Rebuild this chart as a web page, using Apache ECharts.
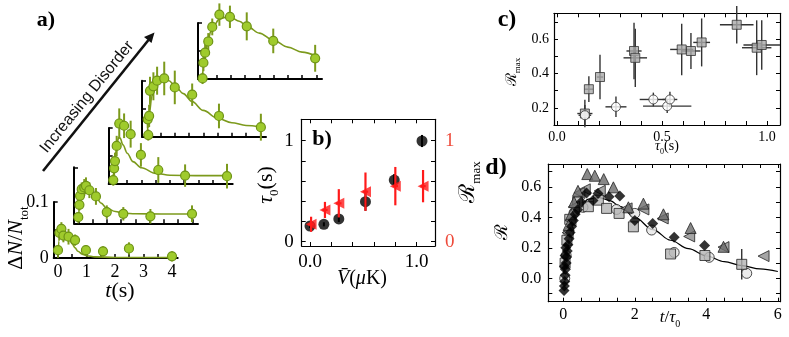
<!DOCTYPE html>
<html>
<head>
<meta charset="utf-8">
<script src="https://cdn.jsdelivr.net/npm/echarts@6/dist/echarts.min.js"></script>
<style>html,body{margin:0;padding:0;background:#fff}#main{width:789px;height:337px}</style>
</head>
<body>
<div id="main"></div>
<script>
var SERIF = "'Liberation Serif','DejaVu Serif',serif";
var SANS = "'Liberation Sans',Arial,sans-serif";

// panel a, five curves: [t (s), dN/Ntot, error]
var a1 = [[0.0,0.014,0.008],[0.05,0.045,0.012],[0.12,0.052,0.012],[0.19,0.040,0.012],[0.37,0.038,0.014],[0.6,0.032,0.01],[0.98,0.014,0.009],[1.58,0.012,0.009],[2.49,0.017,0.011],[4.0,0.003,0.009]];
var a2 = [[0,0.011,0.008],[0.04,0.033,0.01],[0.06,0.049,0.012],[0.12,0.061,0.012],[0.21,0.064,0.015],[0.27,0.067,0.015],[0.39,0.059,0.014],[0.62,0.048,0.015],[1.0,0.02,0.012],[1.58,0.017,0.012],[2.53,0.0125,0.013],[3.99,0.017,0.015]];
var a3 = [[0.01,0.007,0.01],[0.04,0.028,0.012],[0.07,0.041,0.015],[0.13,0.068,0.018],[0.22,0.108,0.027],[0.39,0.104,0.022],[0.62,0.089,0.024],[0.98,0.052,0.021],[1.59,0.025,0.023],[2.53,0.015,0.02],[4.0,0.014,0.022]];
var a4 = [[0.07,0.003,0.01],[0.05,0.031,0.015],[0.1,0.037,0.02],[0.13,0.082,0.025],[0.25,0.09,0.025],[0.38,0.1,0.025],[0.63,0.104,0.03],[1.0,0.088,0.03],[1.61,0.075,0.02],[2.55,0.037,0.022],[4.02,0.017,0.024]];
var a5 = [[0.01,0.001,0.01],[0.04,0.029,0.015],[0.1,0.047,0.015],[0.21,0.067,0.015],[0.35,0.093,0.015],[0.6,0.115,0.02],[0.97,0.111,0.02],[1.56,0.094,0.025],[2.49,0.068,0.022],[3.96,0.037,0.024]];
// fitted curves
var a1Fit = [[0,0],[0.03,0.03],[0.07,0.045],[0.12,0.048],[0.2,0.046],[0.3,0.04],[0.4,0.033],[0.5,0.025],[0.6,0.018],[0.7,0.012],[0.85,0.007],[1.0,0.004],[1.3,0.002],[2,0.001],[4,0.001]];
var a2Fit = [[0,0],[0.05,0.035],[0.1,0.055],[0.2,0.064],[0.3,0.065],[0.4,0.061],[0.6,0.05],[0.8,0.036],[1.0,0.027],[1.3,0.021],[1.6,0.018],[2.0,0.017],[3.0,0.0165],[4.0,0.0165]];
var a3Fit = [[0,0],[0.05,0.03],[0.1,0.058],[0.15,0.075],[0.2,0.083],[0.25,0.082],[0.35,0.07],[0.5,0.055],[0.7,0.04],[1.0,0.029],[1.5,0.019],[2.0,0.0155],[3.0,0.015],[4.0,0.015]];
var a4Fit = [[0.03,0],[0.1,0.04],[0.2,0.073],[0.3,0.09],[0.4,0.099],[0.6,0.105],[0.8,0.1],[1.0,0.091],[1.3,0.077],[1.6,0.063],[2.0,0.047],[2.5,0.033],[3.0,0.025],[3.5,0.02],[4.0,0.018]];
var a5Fit = [[0,0],[0.05,0.025],[0.1,0.045],[0.2,0.068],[0.3,0.085],[0.4,0.095],[0.6,0.107],[0.8,0.11],[1.0,0.11],[1.3,0.103],[1.6,0.093],[2.0,0.082],[2.5,0.069],[3.0,0.057],[3.5,0.048],[4.0,0.041]];

// panel b
var bV = [0.0, 0.13, 0.27, 0.52, 0.79, 1.05];
var bTau = [0.155, 0.172, 0.225, 0.396, 0.61, 0.997];
var bTauErr = [0.02, 0.02, 0.03, 0.09, 0.06, 0.06];
var bRV = [0.01, 0.14, 0.27, 0.52, 0.8, 1.06];
var bR = [0.172, 0.314, 0.38, 0.495, 0.55, 0.55];
var bRErr = [0.075, 0.08, 0.14, 0.19, 0.19, 0.16];

// panel c
var cSqT = [0.133,0.152,0.205,0.367,0.373,0.594,0.638,0.689,0.856,0.951,0.975];
var cSqR = [0.167,0.309,0.38,0.532,0.492,0.541,0.532,0.582,0.685,0.551,0.567];
var cSqTErr = [0.036,0.02,0.015,0.036,0.056,0.055,0.045,0.04,0.08,0.07,0.087];
var cSqRErr = [0.08,0.075,0.13,0.165,0.17,0.15,0.105,0.14,0.11,0.16,0.145];
var cCiT = [0.133,0.281,0.459,0.525,0.538];
var cCiR = [0.157,0.206,0.249,0.21,0.249];
var cCiTErr = [0.03,0.05,0.065,0.115,0.035];
var cCiRErr = [0.06,0.06,0.04,0.04,0.045];

// panel d: [t/tau0, R]
var dCurve = [[0,0],[0.1,0.17],[0.2,0.3],[0.3,0.39],[0.5,0.48],[0.7,0.52],[1.0,0.53],[1.3,0.51],[1.6,0.47],[2.0,0.4],[2.5,0.32],[3.0,0.25],[3.5,0.195],[4.0,0.148],[4.5,0.11],[5.0,0.083],[5.5,0.062],[6.0,0.045]];
var dTriUp = [[0.67,0.684],[0.88,0.673],[1.13,0.651],[1.4,0.597],[0.41,0.574],[0.3,0.5],[0.22,0.42],[0.15,0.35],[1.82,0.466],[2.24,0.49],[2.8,0.42],[3.56,0.33],[4.48,0.207]];
var dTriLeft = [[0.6,0.584],[1.02,0.574],[1.77,0.459],[2.24,0.452],[2.78,0.393],[3.52,0.275],[4.48,0.205],[5.6,0.146],[0.45,0.56],[0.3,0.47],[0.2,0.38],[0.12,0.3]];
var dDiamond = [[0.65,0.56],[0.83,0.51],[0.97,0.557],[1.28,0.535],[1.58,0.54],[2.0,0.38],[2.5,0.36],[3.1,0.27],[3.95,0.215],[0.02,-0.08],[0.03,-0.05],[0.04,-0.02],[0.05,0.02],[0.06,0.06],[0.08,0.1],[0.09,0.14],[0.11,0.18],[0.13,0.22],[0.16,0.26],[0.19,0.3],[0.23,0.34],[0.28,0.38],[0.33,0.42],[0.4,0.45],[0.5,0.5],[0.03,0.08],[0.05,0.15],[0.07,0.2]];
var dSquare = [[0.98,0.513],[0.7,0.47],[1.21,0.459],[1.56,0.426],[1.96,0.338],[3.0,0.16],[3.96,0.15],[4.99,0.092],[0.18,0.387],[0.4,0.5],[0.1,0.25],[0.05,0.1]];
var dSquareErr = [[4.99,0.092,0.1]];
var dCircle = [[2.0,0.426],[2.47,0.317],[3.1,0.17],[4.08,0.138],[5.13,0.033],[1.49,0.452],[0.55,0.466],[0.3,0.43],[0.15,0.3],[0.08,0.15],[0.04,0.0]];

// ticks and tick labels
var aTicksX = [0,0.5,1,1.5,2,2.5,3,3.5,4];
var aLabelsX = [0,1,2,3,4];
var aTicksY = [0.05,0.1];
var aLabelsY = [0,0.1];
var bTicks = [0,0.2,0.4,0.6,0.8,1.0];
var bLabels = [0,1];
var cTicksX = [0,0.1,0.2,0.3,0.4,0.5,0.6,0.7,0.8,0.9,1.0];
var cLabelsX = [0,0.5,1];
var cTicksY = [0.2,0.3,0.4,0.5,0.6,0.7];
var cLabelsY = [0.2,0.4,0.6];
var dTicksX = [0,0.5,1,1.5,2,2.5,3,3.5,4,4.5,5,5.5,6];
var dLabelsX = [0,2,4,6];
var dTicksY = [-0.1,0,0.1,0.2,0.3,0.4,0.5,0.6,0.7];
var dLabelsY = [0,0.2,0.4,0.6];

var GREEN = '#9fcb2c', GREEN_EDGE = '#6e9316', GREEN_LINE = '#7c9a1c';
var RED = '#ff1a1a', RED_TXT = '#ee4a3a';

var chart = echarts.init(document.getElementById('main'), null, {renderer: 'canvas'});

function axis(grid, min, max, ticks, labels, o) {
  o = o || {};
  var lbl = {show: labels.length > 0, customValues: labels, margin: o.margin || 6,
    fontFamily: SERIF, fontSize: o.fs || 16, color: o.color || '#000'};
  if (o.fmt) lbl.formatter = o.fmt;
  return {
    type: 'value', gridIndex: grid, min: min, max: max, position: o.pos,
    splitLine: {show: false},
    axisLine: {show: true, onZero: false, lineStyle: {color: '#000', width: o.lw || 1.2}},
    axisTick: {show: ticks.length > 0, inside: true, length: o.tl || 4, customValues: ticks,
      lineStyle: {color: '#000', width: o.tw || 1}},
    axisLabel: lbl
  };
}

function errBars(color, lw) {
  return function (params, api) {
    var x = api.value(0), y = api.value(1), ey = api.value(2), ex = api.value(3);
    var kids = [];
    if (ey) {
      var p = api.coord([x, y - ey]), q = api.coord([x, y + ey]);
      kids.push({type: 'line', shape: {x1: p[0], y1: p[1], x2: q[0], y2: q[1]}, style: {stroke: color, lineWidth: lw}});
    }
    if (ex) {
      var r = api.coord([x - ex, y]), s = api.coord([x + ex, y]);
      kids.push({type: 'line', shape: {x1: r[0], y1: r[1], x2: s[0], y2: s[1]}, style: {stroke: color, lineWidth: lw}});
    }
    return {type: 'group', children: kids};
  };
}

var grids = [], xAxes = [], yAxes = [], series = [];

// panel a layout
var aLeft = [53.7, 74, 108.7, 142, 198];
var aTop = [202, 167.3, 128, 80.7, 23];
var aData = [a1, a2, a3, a4, a5];
var aFits = [a1Fit, a2Fit, a3Fit, a4Fit, a5Fit];
for (var k = 0; k < 5; k++) {
  grids.push({left: aLeft[k], top: aTop[k], width: 124, height: 56});
  xAxes.push(axis(k, -0.15, 4.2, aTicksX, k === 0 ? aLabelsX : [], {lw: 2, tw: 1.5, fs: 18, margin: 5}));
  yAxes.push(axis(k, 0, 0.1, aTicksY, k === 0 ? aLabelsY : [], {lw: 2, tw: 1.5, fs: 18, margin: 5}));
  series.push({type: 'line', xAxisIndex: k, yAxisIndex: k, data: aFits[k], smooth: 0.35, smoothMonotone: 'x',
    showSymbol: false, clip: false, silent: true, lineStyle: {color: GREEN_LINE, width: 1.6}, z: 2});
  series.push({type: 'custom', xAxisIndex: k, yAxisIndex: k, data: aData[k], renderItem: errBars(GREEN_LINE, 2), z: 3});
  series.push({type: 'scatter', xAxisIndex: k, yAxisIndex: k, data: aData[k], symbolSize: 9, clip: false,
    itemStyle: {color: GREEN, borderColor: GREEN_EDGE, borderWidth: 1.2, opacity: 1}, z: 4});
}

// panel b (grid 5)
grids.push({left: 301.7, top: 119.3, width: 133.3, height: 126.7});
xAxes.push(axis(5, -0.078, 1.172, bTicks, bLabels, {fs: 19, margin: 7, fmt: function (v) { return v.toFixed(1); }}));
xAxes.push(axis(5, -0.078, 1.172, bTicks, [], {pos: 'top'}));
yAxes.push(axis(5, -0.043, 1.212, bTicks, bLabels, {fs: 19, margin: 8, fmt: function (v) { return v.toFixed(0); }}));
yAxes.push(axis(5, -0.043, 1.212, bTicks, bLabels, {pos: 'right', fs: 19, margin: 10, color: RED_TXT, fmt: function (v) { return v.toFixed(0); }}));
var bTauPts = bV.map(function (v, i) { return [v, bTau[i], bTauErr[i]]; });
var bRPts = bRV.map(function (v, i) { return [v, bR[i], bRErr[i], 0.025]; });
series.push({type: 'custom', xAxisIndex: 5, yAxisIndex: 5, data: bTauPts, renderItem: errBars('#000', 2), z: 3});
series.push({type: 'scatter', xAxisIndex: 5, yAxisIndex: 5, data: bTauPts, symbolSize: 11, itemStyle: {color: '#000'}, z: 4});
series.push({type: 'custom', xAxisIndex: 5, yAxisIndex: 6, data: bRPts, renderItem: errBars(RED, 2.2), z: 5});
series.push({type: 'scatter', xAxisIndex: 5, yAxisIndex: 6, data: bRPts, symbol: 'triangle', symbolRotate: 90, symbolSize: 11,
  itemStyle: {color: RED}, z: 6});

// panel c (grid 6)
grids.push({left: 554, top: 13.3, width: 226, height: 111.7});
xAxes.push(axis(6, -0.014, 1.062, cTicksX, cLabelsX, {fs: 14, margin: 5, fmt: function (v) { return v.toFixed(1); }}));
xAxes.push(axis(6, -0.014, 1.062, cTicksX, [], {pos: 'top'}));
yAxes.push(axis(6, 0.1, 0.752, cTicksY, cLabelsY, {fs: 14, margin: 5, fmt: function (v) { return v.toFixed(1); }}));
yAxes.push(axis(6, 0.1, 0.752, cTicksY, [], {pos: 'right'}));
var cSqPts = cSqT.map(function (t, i) { return [t, cSqR[i], cSqRErr[i], cSqTErr[i]]; });
var cCiPts = cCiT.map(function (t, i) { return [t, cCiR[i], cCiRErr[i], cCiTErr[i]]; });
series.push({type: 'custom', xAxisIndex: 7, yAxisIndex: 7, data: cSqPts.concat(cCiPts), renderItem: errBars('#333', 1.4), z: 3});
series.push({type: 'scatter', xAxisIndex: 7, yAxisIndex: 7, data: cSqPts, symbol: 'rect', symbolSize: 9,
  itemStyle: {color: '#a9a9a9', borderColor: '#333', borderWidth: 1}, z: 4});
series.push({type: 'scatter', xAxisIndex: 7, yAxisIndex: 7, data: cCiPts, symbolSize: 9,
  itemStyle: {color: '#fff', borderColor: '#333', borderWidth: 1}, z: 4});

// panel d (grid 7)
grids.push({left: 548.3, top: 164, width: 231.7, height: 137.7});
xAxes.push(axis(7, -0.42, 6.06, dTicksX, dLabelsX, {fs: 16, margin: 5, fmt: function (v) { return String(v); }}));
xAxes.push(axis(7, -0.42, 6.06, dTicksX, [], {pos: 'top'}));
yAxes.push(axis(7, -0.153, 0.75, dTicksY, dLabelsY, {fs: 16, margin: 7, fmt: function (v) { return v.toFixed(1); }}));
yAxes.push(axis(7, -0.153, 0.75, dTicksY, [], {pos: 'right'}));
var dEdge = {borderColor: '#222', borderWidth: 1};
series.push({type: 'line', xAxisIndex: 9, yAxisIndex: 9, data: dCurve, smooth: 0.35, smoothMonotone: 'x', showSymbol: false,
  silent: true, lineStyle: {color: '#000', width: 1.2}, z: 2});
series.push({type: 'custom', xAxisIndex: 9, yAxisIndex: 9, data: dSquareErr, renderItem: errBars('#222', 1.3), z: 3});
series.push({type: 'scatter', xAxisIndex: 9, yAxisIndex: 9, data: dCircle, symbolSize: 10,
  itemStyle: Object.assign({color: '#e6e6e6'}, dEdge), z: 4});
series.push({type: 'scatter', xAxisIndex: 9, yAxisIndex: 9, data: dSquare, symbol: 'rect', symbolSize: 10,
  itemStyle: Object.assign({color: '#b3b3b3'}, dEdge), z: 5});
series.push({type: 'scatter', xAxisIndex: 9, yAxisIndex: 9, data: dTriLeft, symbol: 'triangle', symbolRotate: 90, symbolSize: 11,
  itemStyle: Object.assign({color: '#8e8e8e'}, dEdge), z: 6});
series.push({type: 'scatter', xAxisIndex: 9, yAxisIndex: 9, data: dTriUp, symbol: 'triangle', symbolSize: 11,
  itemStyle: Object.assign({color: '#6a6a6a'}, dEdge), z: 7});
series.push({type: 'scatter', xAxisIndex: 9, yAxisIndex: 9, data: dDiamond, symbol: 'diamond', symbolSize: 11,
  itemStyle: {color: '#000'}, z: 8});

function rich(fs, color) {
  color = color || '#000';
  return {
    n: {fontFamily: SERIF, fontSize: fs, color: color},
    i: {fontFamily: SERIF, fontSize: fs, fontStyle: 'italic', color: color},
    s: {fontFamily: SERIF, fontSize: Math.round(fs * 0.6), color: color, verticalAlign: 'bottom', lineHeight: Math.round(fs * 1.35)}
  };
}
function label(x, y, text, fs, rot, color) {
  return {type: 'text', x: x, y: y, rotation: rot || 0, z: 20,
    style: {text: text, align: 'center', verticalAlign: 'middle', rich: rich(fs, color)}};
}
function bold(x, y, text, fs) {
  return {type: 'text', x: x, y: y, z: 20,
    style: {text: text, align: 'center', verticalAlign: 'middle', font: 'bold ' + fs + 'px ' + SERIF, fill: '#000'}};
}

var R90 = Math.PI / 2;
var graphic = [
  bold(46, 20, 'a)', 22), bold(322, 139, 'b)', 22), bold(507, 20, 'c)', 24), bold(496, 168, 'd)', 24),
  label(16, 238, '{n|Δ}{i|N}{n|/}{i|N}{s|tot}', 22, R90),
  label(120, 291, '{i|t}{n|(s)}', 22),
  {type: 'text', x: 87, y: 97, rotation: 0.89, z: 20,
    style: {text: 'Increasing Disorder', align: 'center', verticalAlign: 'middle', font: '16px ' + SANS, fill: '#111'}},
  {type: 'line', z: 20, shape: {x1: 43, y1: 171, x2: 148.5, y2: 40}, style: {stroke: '#111', lineWidth: 2.6}},
  {type: 'polygon', z: 20, shape: {points: [[154.5, 32.5], [151.5, 43], [144, 37]]}, style: {fill: '#111'}},
  label(266, 185, '{i|τ}{s|0}{n|(s)}', 22, R90),
  label(468, 182, '{n|ℛ}{s|max}', 22, R90, RED_TXT),
  label(362, 279, '{i|V\u0304}{n|(}{i|μ}{n|K)}', 20),
  label(512, 72, '{n|ℛ}{s|max}', 15, R90),
  label(667, 146, '{i|τ}{s|0}{n|(s)}', 14),
  label(502, 232, '{n|ℛ}', 18, R90),
  label(670, 318, '{i|t}{n|/}{i|τ}{s|0}', 17)
];

chart.setOption({
  animation: false,
  backgroundColor: '#fff',
  grid: grids,
  xAxis: xAxes,
  yAxis: yAxes,
  series: series,
  graphic: graphic
});
</script>
</body>
</html>
